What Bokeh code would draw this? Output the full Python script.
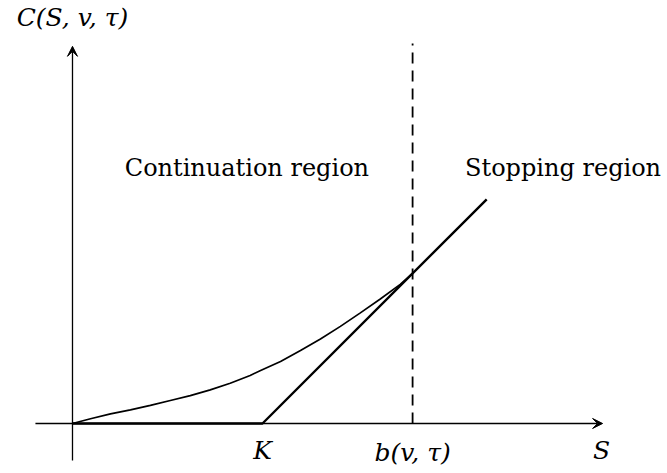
from bokeh.plotting import figure
from bokeh.models import Range1d, Arrow, VeeHead
from bokeh.core.properties import value
from bokeh.embed import file_html
from bokeh.resources import INLINE

# --- data (in S units; K = 100) ---
K = 100.0
b_boundary = 179.0
s_max = 218.0
curve_S = [0, 9.5, 20, 30.5, 41, 51.5, 62, 72.5, 83, 93.5, 99, 109.5, 120, 130.5, 141, 151.5, 162, 172.5, 179]
curve_C = [0, 2.5, 5.1, 7.2, 9.5, 12.1, 14.7, 17.7, 21.2, 25.3, 27.9, 32.6, 38.4, 44.5, 51.1, 58.2, 65.5, 73.2, 79]
payoff_S = [0, K, s_max]
payoff_C = [max(s - K, 0) for s in payoff_S]
axis_x_extent = [-19.5, 279.0]
axis_y_extent = [-19.5, 198.5]
dash_top = 200.0

p = figure(width=667, height=473, output_backend="svg", toolbar_location=None,
           x_range=Range1d(-37.89, 313.16), y_range=Range1d(-26.32, 222.63),
           min_border=0)
p.xaxis.visible = False
p.yaxis.visible = False
p.grid.visible = False
p.outline_line_color = None
p.background_fill_color = "white"
p.border_fill_color = "white"

# axes with arrows
p.add_layout(Arrow(end=VeeHead(size=10, fill_color="black", line_color="black", line_width=1),
                   x_start=axis_x_extent[0], y_start=0, x_end=axis_x_extent[1], y_end=0,
                   line_width=1.3, line_color="black"))
p.add_layout(Arrow(end=VeeHead(size=10, fill_color="black", line_color="black", line_width=1),
                   x_start=0, y_start=axis_y_extent[0], x_end=0, y_end=axis_y_extent[1],
                   line_width=1.3, line_color="black"))

# dashed boundary
p.line([b_boundary, b_boundary], [0, dash_top], line_dash="11 7", line_width=1.8, line_color="black")

# payoff
p.line(payoff_S, payoff_C, line_width=2.4, line_color="black")
# option value curve
p.line(curve_S, curve_C, line_width=1.7, line_color="black")

serif = value("DejaVu Serif")
p.text(x=[91.8, 258.2], y=[134.7, 134.7], text=["Continuation region", "Stopping region"],
       text_font=serif, text_font_size="24px", text_align="center", text_baseline="middle",
       text_color="black")
p.text(x=[0, K, b_boundary, 278.4], y=[213.7, -14.2, -15.3, -14.2],
       text=["C(S, v, τ)", "K", "b(v, τ)", "S"],
       text_font=serif, text_font_size="25px", text_font_style="italic",
       text_align="center", text_baseline="middle", text_color="black")

open("out.html", "w").write(file_html(p, INLINE))
